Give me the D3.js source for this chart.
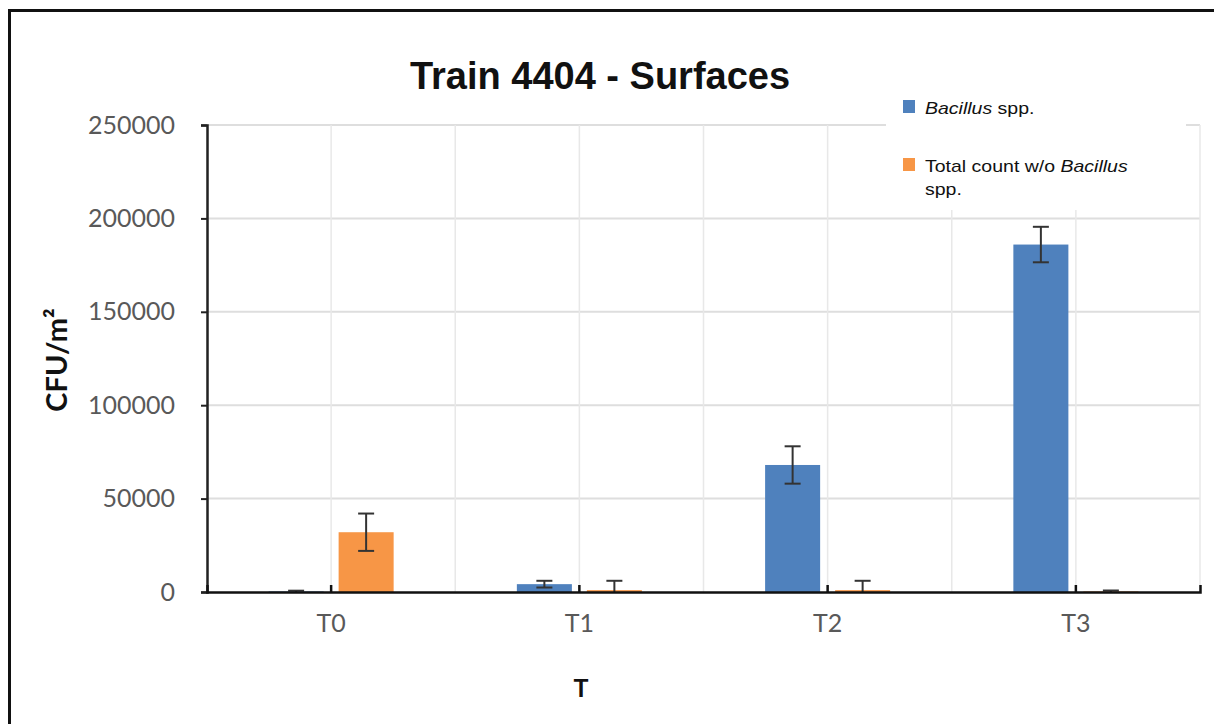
<!DOCTYPE html>
<html>
<head>
<meta charset="utf-8">
<script src="https://cdn.jsdelivr.net/npm/d3@7"></script>
<style>
  html, body { margin: 0; padding: 0; background: #fff; }
  svg { display: block; }
</style>
</head>
<body>
<svg id="chart" width="1214" height="724"></svg>
<script>
// Sampling times and the two measured groups
const categories = ["T0", "T1", "T2", "T3"];
const seriesNames = ["Bacillus spp.", "Total count w/o Bacillus spp."];
const bacillus = [300, 4200, 68000, 186000];
const bacillusErr = [400, 1800, 10000, 9500];
const otherCount = [32000, 1000, 1000, 300];
const otherCountErr = [10000, 5000, 5000, 500];
const yTicks = [0, 50000, 100000, 150000, 200000, 250000];

const colors = ["#4f81bd", "#f79646"];

const svg = d3.select("#chart");

// Plot area
const plotL = 207, plotR = 1200, plotT = 125, plotB = 592;

const x0 = d3.scaleBand().domain(categories).range([plotL, plotR]).padding(0);
const x1 = d3.scaleBand().domain([0, 1]).range([0, x0.bandwidth()])
  .paddingInner(0.214).paddingOuter(0.88);
const y = d3.scaleLinear().domain([0, 250000]).range([plotB, plotT]);

// Frame of the figure
svg.append("path")
  .attr("d", "M1214,10.5 H9.5 V724")
  .attr("fill", "none").attr("stroke", "#111").attr("stroke-width", 3);

// Horizontal gridlines
svg.append("g").selectAll("line").data(yTicks.filter(d => d > 0)).join("line")
  .attr("x1", plotL).attr("x2", plotR)
  .attr("y1", d => y(d)).attr("y2", d => y(d))
  .attr("stroke", "#dedede").attr("stroke-width", 2);

// Vertical gridlines at band edges and band centres
const vLines = [];
categories.forEach(c => { vLines.push(x0(c)); vLines.push(x0(c) + x0.bandwidth() / 2); });
vLines.push(plotR);
svg.append("g").selectAll("line").data(vLines.slice(1)).join("line")
  .attr("x1", d => d).attr("x2", d => d)
  .attr("y1", plotT).attr("y2", plotB)
  .attr("stroke", "#e8e8e8").attr("stroke-width", 1.5);

// Bars
const rows = categories.map((c, i) => ({
  cat: c,
  vals: [
    { s: 0, v: bacillus[i], e: bacillusErr[i] },
    { s: 1, v: otherCount[i], e: otherCountErr[i] }
  ]
}));

const groups = svg.append("g").selectAll("g").data(rows).join("g")
  .attr("transform", d => `translate(${x0(d.cat)},0)`);

groups.selectAll("rect").data(d => d.vals).join("rect")
  .attr("x", d => x1(d.s))
  .attr("width", x1.bandwidth())
  .attr("y", d => y(d.v))
  .attr("height", d => y(0) - y(d.v))
  .attr("fill", d => colors[d.s]);

// Error bars
const capW = 16;
const eb = groups.selectAll("g.err").data(d => d.vals).join("g").attr("class", "err")
  .attr("stroke", "#333").attr("stroke-width", 2);
eb.append("line")
  .attr("x1", d => x1(d.s) + x1.bandwidth() / 2)
  .attr("x2", d => x1(d.s) + x1.bandwidth() / 2)
  .attr("y1", d => y(Math.max(0, d.v - d.e)))
  .attr("y2", d => y(d.v + d.e));
eb.append("line")
  .attr("x1", d => x1(d.s) + x1.bandwidth() / 2 - capW / 2)
  .attr("x2", d => x1(d.s) + x1.bandwidth() / 2 + capW / 2)
  .attr("y1", d => y(d.v + d.e)).attr("y2", d => y(d.v + d.e));
eb.filter(d => d.v - d.e > 0).append("line")
  .attr("x1", d => x1(d.s) + x1.bandwidth() / 2 - capW / 2)
  .attr("x2", d => x1(d.s) + x1.bandwidth() / 2 + capW / 2)
  .attr("y1", d => y(d.v - d.e)).attr("y2", d => y(d.v - d.e));

// Y axis
const yAxis = svg.append("g").attr("transform", `translate(${plotL},0)`)
  .call(d3.axisLeft(y).tickValues(yTicks).tickFormat(d3.format("d"))
    .tickSizeInner(6).tickSizeOuter(6).tickPadding(26));
yAxis.select(".domain").attr("stroke", "#222").attr("stroke-width", 2.5);
yAxis.selectAll(".tick line").attr("stroke", "#222").attr("stroke-width", 2);
yAxis.selectAll("text")
  .attr("fill", "#595959").attr("font-family", "Lato, 'Open Sans', sans-serif")
  .attr("font-size", 25);

// X axis: ticks pointing up at the category centres
const xAxis = svg.append("g").attr("transform", `translate(0,${plotB})`)
  .call(d3.axisBottom(x0).tickSizeInner(-7).tickSizeOuter(-7).tickPadding(22));
xAxis.select(".domain").attr("stroke", "#111").attr("stroke-width", 2.5);
xAxis.selectAll(".tick line").attr("stroke", "#111").attr("stroke-width", 2.5);
xAxis.selectAll("text")
  .attr("fill", "#595959").attr("font-family", "Lato, 'Open Sans', sans-serif")
  .attr("font-size", 25);

// Title
svg.append("text")
  .attr("x", 600).attr("y", 89).attr("text-anchor", "middle")
  .attr("font-family", "'Liberation Sans', Arial, sans-serif")
  .attr("font-weight", "bold").attr("font-size", 38).attr("fill", "#111")
  .text("Train 4404 - Surfaces");

// Axis titles
svg.append("text")
  .attr("transform", "translate(67,360) rotate(-90)").attr("text-anchor", "middle")
  .attr("font-family", "Lato, 'Open Sans', sans-serif")
  .attr("font-weight", "bold").attr("font-size", 29).attr("fill", "#111")
  .text("CFU/m²");

svg.append("text")
  .attr("x", 581).attr("y", 697).attr("text-anchor", "middle")
  .attr("font-family", "Lato, 'Open Sans', sans-serif")
  .attr("font-weight", "bold").attr("font-size", 25).attr("fill", "#111")
  .text("T");

// Legend
const lg = svg.append("g");
lg.append("rect").attr("x", 886).attr("y", 92).attr("width", 300).attr("height", 118)
  .attr("fill", "#fff");
const legendItems = [
  { s: 0, y: 100, lines: [[["Bacillus", true], [" spp.", false]]] },
  { s: 1, y: 158, lines: [[["Total count w/o ", false], ["Bacillus", true]], [["spp.", false]]] }
];
legendItems.forEach(it => {
  lg.append("rect").attr("x", 903).attr("y", it.y).attr("width", 12).attr("height", 13)
    .attr("fill", colors[it.s]);
  it.lines.forEach((ln, li) => {
    const t = lg.append("text")
      .attr("transform", `translate(925,${it.y + 14 + li * 23}) scale(1.22,1)`)
      .attr("font-family", "'Liberation Sans', Arial, sans-serif")
      .attr("font-size", 16).attr("fill", "#111");
    ln.forEach(([txt, it2]) => {
      t.append("tspan").attr("font-style", it2 ? "italic" : "normal").text(txt);
    });
  });
});
</script>
</body>
</html>
